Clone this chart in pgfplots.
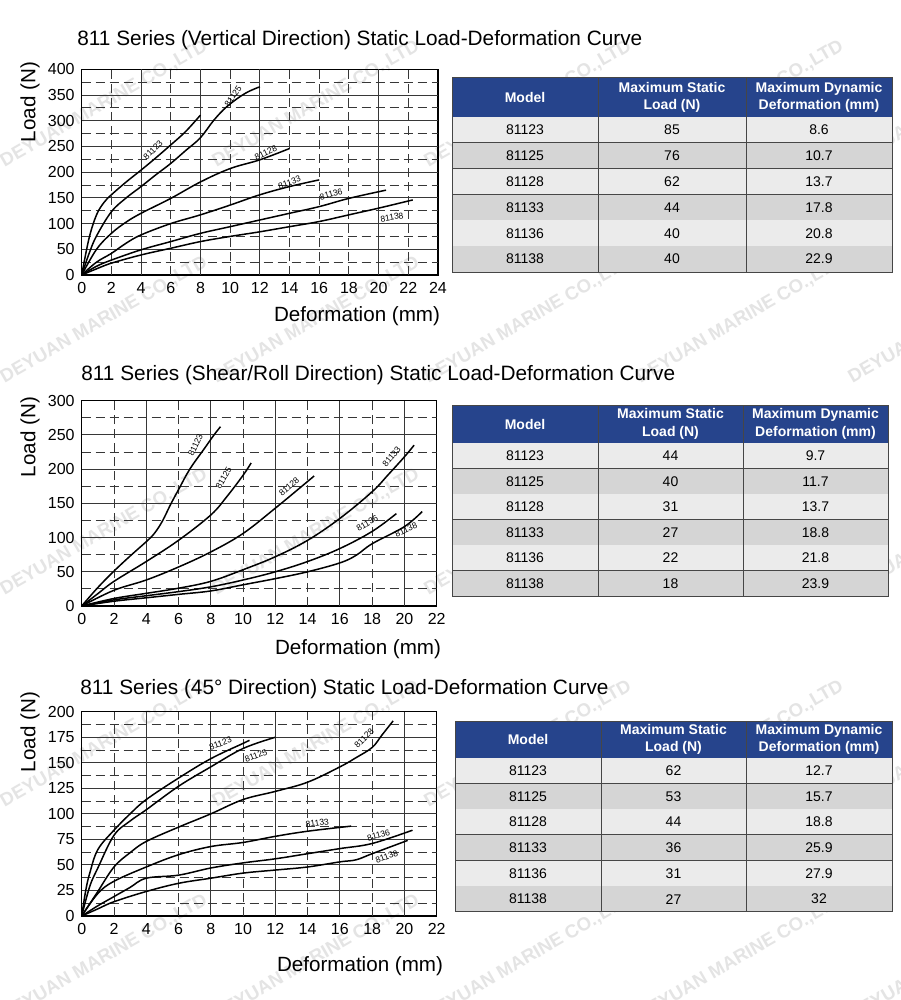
\documentclass[border=0pt]{standalone}
\usepackage{fontspec}
\setmainfont{Liberation Sans}
\usepackage{pgfplots}
\pgfplotsset{compat=1.18}
\definecolor{hdrblue}{RGB}{38,68,140}
\definecolor{rowlight}{RGB}{235,235,235}
\definecolor{rowdark}{RGB}{213,213,213}
\definecolor{gridc}{RGB}{55,55,55}
\definecolor{sepc}{RGB}{70,70,70}
\definecolor{wm}{RGB}{228,228,228}

\pgfplotsset{
  loadcurve/.style={
    scale only axis,
    anchor=south west,
    xmin=0, ymin=0,
    major tick length=0pt,
    tick label style={font=\fontsize{8}{9}\selectfont},
    /pgf/number format/assume math mode=true,
    axis line style={line width=0.7pt, black},
  },
  crv/.style={no marks, black, line width=0.75pt, smooth, tension=0.6},
}
\tikzset{
  gs/.style={gridc, line width=0.45pt},
  gd/.style={gridc, line width=0.45pt, dash pattern=on 4.5pt off 2.5pt},
  cl/.style={font=\fontsize{4.3}{5}\selectfont, inner sep=0.5pt},
  hdr/.style={text=white, font=\bfseries\fontsize{7}{8.8}\selectfont, align=center},
  cell/.style={font=\fontsize{7}{8}\selectfont},
  sep/.style={sepc, line width=0.5pt},
  ttl/.style={anchor=west, inner sep=0pt, font=\fontsize{10.4}{12}\selectfont},
  alab/.style={font=\fontsize{10.3}{12}\selectfont},
}

\newcommand{\spectable}[8]{%
  \pgfmathsetmacro{\xa}{(#1+#2)/2}%
  \pgfmathsetmacro{\xb}{(#2+#3)/2}%
  \pgfmathsetmacro{\xc}{(#3+#4)/2}%
  \pgfmathsetmacro{\yh}{(#5+#6)/2}%
  \pgfmathsetmacro{\ybot}{#6-6*#7}%
  \fill[hdrblue] (#1pt,#5pt) rectangle (#4pt,#6pt);
  \node[hdr] at (\xa pt,\yh pt) {Model};
  \node[hdr] at (\xb pt,\yh pt) {Maximum Static\\Load (N)};
  \node[hdr] at (\xc pt,\yh pt) {Maximum Dynamic\\Deformation (mm)};
  \foreach \m/\l/\d [count=\i from 0] in {#8}{%
    \pgfmathsetmacro{\ya}{#6-\i*#7}%
    \pgfmathsetmacro{\yb}{#6-(\i+1)*#7}%
    \pgfmathsetmacro{\ym}{#6-(\i+0.5)*#7}%
    \ifodd\i\relax
      \fill[rowdark] (#1pt,\ya pt) rectangle (#4pt,\yb pt);
    \else
      \fill[rowlight] (#1pt,\ya pt) rectangle (#4pt,\yb pt);
    \fi
    \draw[sep] (#1pt,\yb pt) -- (#4pt,\yb pt);
    \node[cell] at (\xa pt,\ym pt) {\m};
    \node[cell] at (\xb pt,\ym pt) {\l};
    \node[cell] at (\xc pt,\ym pt) {\d};
  }
  \draw[sep] (#2pt,#5pt) -- (#2pt,\ybot pt);
  \draw[sep] (#3pt,#5pt) -- (#3pt,\ybot pt);
  \draw[sep] (#1pt,#5pt) rectangle (#4pt,\ybot pt);
}

\begin{document}
\begin{tikzpicture}
\useasboundingbox (0,0) rectangle (450pt,-500pt);
\fill[white] (0,0) rectangle (450pt,-500pt);

% watermark
\foreach \wy in {-52,-160,-266,-372,-479}{
  \foreach \wx in {52,158,264,370,476}{
    \node[rotate=30, text=wm, font=\bfseries\fontsize{9.3}{10}\selectfont] at (\wx pt,\wy pt) {DEYUAN MARINE CO.,LTD};
  }
}

% ---------- Plot 1 ----------
\node[ttl] at (38.5pt,-20pt) {811 Series (Vertical Direction) Static Load-Deformation Curve};
\node[alab, rotate=90] at (15pt,-51pt) {Load (N)};
\node[alab] at (178.5pt,-158pt) {Deformation (mm)};
\begin{axis}[loadcurve, at={(40.85pt,-137.5pt)}, width=178.15pt, height=102.85pt,
  xmax=24, ymax=400, xtick={0,2,...,24}, ytick={0,50,...,400}]
  \pgfplotsinvokeforeach{4,8,12,20}{\draw[gs] (axis cs:#1,0) -- (axis cs:#1,400);}
  \pgfplotsinvokeforeach{2,6,10,14,16,18,22}{\draw[gd] (axis cs:#1,0) -- (axis cs:#1,400);}
  \pgfplotsinvokeforeach{50,100,150,200,250,300,350}{\draw[gs] (axis cs:0,#1) -- (axis cs:24,#1);}
  \pgfplotsinvokeforeach{25,75,125,175,225,275,325,375}{\draw[gd] (axis cs:0,#1) -- (axis cs:24,#1);}
  \addplot[crv] coordinates {(0,0) (0.5,72) (1,117) (1.5,141) (2,156) (3,181) (4,204) (5,228) (6,253) (7,279) (8,311)};
  \addplot[crv] coordinates {(0,0) (0.5,42) (1,76) (2,123) (3,150) (4,172) (5,195) (6,217) (7,242) (8,267) (8.9,301) (9.8,328) (11,353) (12,366)};
  \addplot[crv] coordinates {(0,0) (1,50) (2,81) (3,103) (4,120) (6,149) (8,181) (10,207) (12,224) (14,246)};
  \addplot[crv] coordinates {(0,0) (1,25) (2,42) (3,62) (4,78) (6,100) (8,117) (10,136) (12,156) (14,172) (16,185)};
  \addplot[crv] coordinates {(0,0) (1,17) (2,29) (4,49) (6,65) (8,81) (10,94) (12,107) (14,120) (16,133) (18,149) (20.5,165)};
  \addplot[crv] coordinates {(0,0) (1,12) (2,23) (4,39) (6,52) (8,65) (10,75) (12,84) (14,94) (16,104) (18,117) (20,130) (22.3,146)};
  \node[cl, rotate=45] at (axis cs:4.8,243) {81123};
  \node[cl, rotate=55] at (axis cs:10.2,348) {81125};
  \node[cl, rotate=25] at (axis cs:12.4,238) {81128};
  \node[cl, rotate=20] at (axis cs:14,180) {81133};
  \node[cl, rotate=15] at (axis cs:16.8,157) {81136};
  \node[cl, rotate=10] at (axis cs:20.9,112) {81138};
\end{axis}
\spectable{226}{299}{373}{446}{-39}{-58.5}{12.92}{81123/85/8.6, 81125/76/10.7, 81128/62/13.7, 81133/44/17.8, 81136/40/20.8, 81138/40/22.9}

% ---------- Plot 2 ----------
\node[ttl] at (40.5pt,-187.5pt) {811 Series (Shear/Roll Direction) Static Load-Deformation Curve};
\node[alab, rotate=90] at (15pt,-218.5pt) {Load (N)};
\node[alab] at (179pt,-324.5pt) {Deformation (mm)};
\begin{axis}[loadcurve, at={(40.85pt,-303pt)}, width=177.5pt, height=102.65pt,
  xmax=22, ymax=300, xtick={0,2,...,22}, ytick={0,50,...,300}]
  \pgfplotsinvokeforeach{4,8,12,16,20}{\draw[gs] (axis cs:#1,0) -- (axis cs:#1,300);}
  \pgfplotsinvokeforeach{2,6,10,14,18}{\draw[gd] (axis cs:#1,0) -- (axis cs:#1,300);}
  \pgfplotsinvokeforeach{50,100,150,200,250}{\draw[gs] (axis cs:0,#1) -- (axis cs:22,#1);}
  \pgfplotsinvokeforeach{25,75,125,175,225,275}{\draw[gd] (axis cs:0,#1) -- (axis cs:22,#1);}
  \addplot[crv] coordinates {(0,0) (1,27) (2,51) (3,73) (4,94) (4.5,106) (5,124) (5.5,148) (6,170) (6.7,200) (7.6,230) (8.2,250) (8.6,262)};
  \addplot[crv] coordinates {(0,0) (1,18) (2,36) (4,65) (6,96) (8,133) (9,160) (10,191) (10.5,209)};
  \addplot[crv] coordinates {(0,0) (2,23) (4,38) (6,57) (8,79) (10,106) (12,143) (14,182) (14.4,190)};
  \addplot[crv] coordinates {(0,0) (2,11) (4,18.5) (6,26) (8,36) (10,53) (12,72) (14,96) (16,128) (18,167) (19,192) (20,218) (20.6,235)};
  \addplot[crv] coordinates {(0,0) (2,9) (4,15) (6,21) (8,28) (10,38) (12,50) (14,65) (16,84) (18,109) (19.5,135)};
  \addplot[crv] coordinates {(0,0) (2,7) (4,12) (6,17) (8,22) (10,31) (12,40) (14,50) (16,63) (17,74) (18,91) (20,116) (21.1,138)};
  \node[cl, rotate=65] at (axis cs:7.05,235) {81123};
  \node[cl, rotate=60] at (axis cs:8.8,187) {81125};
  \node[cl, rotate=40] at (axis cs:12.85,174) {81128};
  \node[cl, rotate=50] at (axis cs:19.2,218) {81133};
  \node[cl, rotate=30] at (axis cs:17.7,121) {81136};
  \node[cl, rotate=25] at (axis cs:20.1,111) {81138};
\end{axis}
\spectable{226}{299}{371.5}{444}{-202.5}{-221.5}{12.75}{81123/44/9.7, 81125/40/11.7, 81128/31/13.7, 81133/27/18.8, 81136/22/21.8, 81138/18/23.9}

% ---------- Plot 3 ----------
\node[ttl] at (40pt,-344.5pt) {811 Series (45° Direction) Static Load-Deformation Curve};
\node[alab, rotate=90] at (15pt,-366pt) {Load (N)};
\node[alab] at (180pt,-483pt) {Deformation (mm)};
\begin{axis}[loadcurve, at={(40.85pt,-458pt)}, width=177.5pt, height=102.15pt,
  xmax=22, ymax=200, xtick={0,2,...,22}, ytick={0,25,...,200}]
  \pgfplotsinvokeforeach{4,8,12,16,20}{\draw[gs] (axis cs:#1,0) -- (axis cs:#1,200);}
  \pgfplotsinvokeforeach{2,6,10,14,18}{\draw[gd] (axis cs:#1,0) -- (axis cs:#1,200);}
  \pgfplotsinvokeforeach{25,50,75,100,125,150,175}{\draw[gs] (axis cs:0,#1) -- (axis cs:22,#1);}
  \pgfplotsinvokeforeach{12.5,37.5,62.5,87.5,112.5,137.5,162.5,187.5}{\draw[gd] (axis cs:0,#1) -- (axis cs:22,#1);}
  \addplot[crv] coordinates {(0,0) (0.25,25) (0.5,42) (1,65) (2,84) (3,100) (4,114) (6,135) (8,154) (10,169) (10.4,172)};
  \addplot[crv] coordinates {(0,0) (0.5,29) (1,47) (2,79) (3,93) (4,104) (6,127) (8,146) (10,164) (12,175)};
  \addplot[crv] coordinates {(0,0) (0.5,12) (1,24) (2,48) (3,62) (4,73) (6,87) (8,100) (10,114) (12,122) (14,131) (16,146) (17,155) (18,165) (18.6,177) (19.3,191)};
  \addplot[crv] coordinates {(0,0) (1,22) (2,34) (4,48) (6,60) (8,68) (10,72) (12,78) (14,83) (16.7,88)};
  \addplot[crv] coordinates {(0,0) (1,10) (2,19) (3,28) (4,37) (6,40) (8,47) (10,52) (12,56) (14,61) (16,66) (18,71) (20.5,84)};
  \addplot[crv] coordinates {(0,0) (1,7) (2,14) (4,24) (6,32) (8,37) (10,42) (12,45) (14,48) (16,53) (17,55) (18,61) (20.2,74)};
  \node[cl, rotate=20] at (axis cs:8.6,169) {81123};
  \node[cl, rotate=20] at (axis cs:10.8,157) {81125};
  \node[cl, rotate=45] at (axis cs:17.5,174) {81128};
  \node[cl, rotate=8] at (axis cs:14.6,91) {81133};
  \node[cl, rotate=15] at (axis cs:18.4,79) {81136};
  \node[cl, rotate=20] at (axis cs:18.9,58) {81138};
\end{axis}
\spectable{227.5}{300.5}{373}{446}{-360.5}{-379}{12.83}{81123/62/12.7, 81125/53/15.7, 81128/44/18.8, 81133/36/25.9, 81136/31/27.9, 81138/27/32}
\end{tikzpicture}
\end{document}
